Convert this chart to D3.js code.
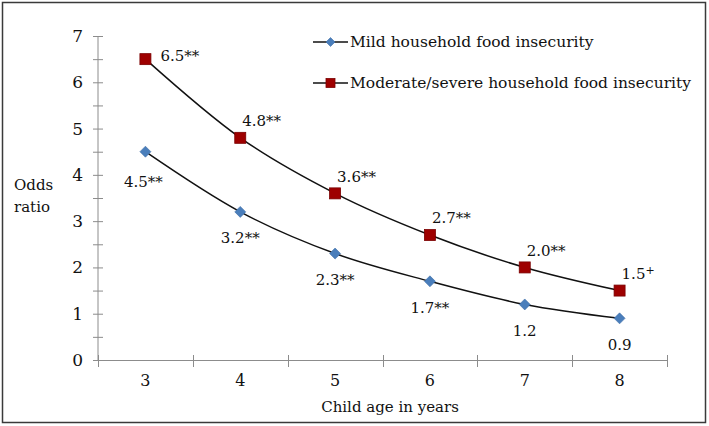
<!DOCTYPE html>
<html><head><meta charset="utf-8">
<script src="https://cdn.jsdelivr.net/npm/d3@7"></script>
<style>body{margin:0;background:#fff}svg{display:block}text{font-family:"DejaVu Serif",serif;fill:#111}</style>
</head><body><svg id="c" width="709" height="426"></svg>
<script>
const ages = [3, 4, 5, 6, 7, 8];
const mild = [4.5, 3.2, 2.3, 1.7, 1.2, 0.9];
const moderate = [6.5, 4.8, 3.6, 2.7, 2.0, 1.5];
const mildLabels = ["4.5**", "3.2**", "2.3**", "1.7**", "1.2", "0.9"];
const moderateLabels = ["6.5**", "4.8**", "3.6**", "2.7**", "2.0**", "1.5"];
const moderateSup = ["", "", "", "", "", "+"];
const yTicks = [0, 1, 2, 3, 4, 5, 6, 7];
const yMinorTicks = [0.5, 1.5, 2.5, 3.5, 4.5, 5.5, 6.5];
const seriesNames = ["Mild household food insecurity", "Moderate/severe household food insecurity"];

const svg = d3.select("#c");
const fs = 15;
svg.append("rect").attr("x", 2.5).attr("y", 2.5).attr("width", 703).attr("height", 420)
  .attr("fill", "#fff").attr("stroke", "#3a3a3a").attr("stroke-width", 1.5);

const x = d3.scaleBand().domain(ages).range([98, 667]);
const y = d3.scaleLinear().domain([0, 7]).range([360, 36]);
const cx = a => x(a) + x.bandwidth() / 2;
const axisColor = "#8c8c8c";

// y axis
const gy = svg.append("g");
gy.append("line").attr("x1", 98).attr("x2", 98).attr("y1", y(7)).attr("y2", y(0)).attr("stroke", axisColor);
gy.selectAll("line.t").data(yTicks.concat(yMinorTicks)).join("line").attr("class", "t")
  .attr("x1", 93).attr("x2", 103).attr("y1", d => y(d) + 0.5).attr("y2", d => y(d) + 0.5).attr("stroke", axisColor);
gy.selectAll("text").data(yTicks).join("text")
  .attr("x", 83).attr("y", d => y(d)).attr("dy", "0.35em").attr("text-anchor", "end")
  .style("font-size", "17px").text(d => d);

// x axis
const gx = svg.append("g");
gx.append("line").attr("x1", 98).attr("x2", 667).attr("y1", y(0) + 0.5).attr("y2", y(0) + 0.5).attr("stroke", axisColor);
const xEdges = ages.map(a => x(a)).concat([x(ages[ages.length - 1]) + x.bandwidth()]);
gx.selectAll("line.t").data(xEdges).join("line").attr("class", "t")
  .attr("x1", d => Math.round(d) + 0.5).attr("x2", d => Math.round(d) + 0.5)
  .attr("y1", y(0) - 5).attr("y2", y(0) + 7).attr("stroke", axisColor);
gx.selectAll("text").data(ages).join("text")
  .attr("x", d => cx(d)).attr("y", 380).attr("dy", "0.35em").attr("text-anchor", "middle")
  .style("font-size", "16px").text(d => d);

svg.append("text").attr("x", 390).attr("y", 407).attr("dy", "0.35em").attr("text-anchor", "middle")
  .style("font-size", fs + "px").text("Child age in years");
svg.append("text").attr("x", 14).attr("y", 185).attr("dy", "0.35em").style("font-size", fs + "px").text("Odds");
svg.append("text").attr("x", 14).attr("y", 207).attr("dy", "0.35em").style("font-size", fs + "px").text("ratio");

const line = d3.line().x((d, i) => cx(ages[i])).y(d => y(d)).curve(d3.curveCatmullRom.alpha(0));
svg.append("path").attr("d", line(mild)).attr("fill", "none").attr("stroke", "#111").attr("stroke-width", 1.5);
svg.append("path").attr("d", line(moderate)).attr("fill", "none").attr("stroke", "#111").attr("stroke-width", 1.5);

function drawDiamond(g, px, py, s) {
  g.append("path").attr("d", `M${px},${py - s}L${px + s},${py}L${px},${py + s}L${px - s},${py}Z`)
    .attr("fill", "#4a7ebb").attr("stroke", "#3f6fa8").attr("stroke-width", 0.6);
}
function drawSquare(g, px, py, s) {
  g.append("rect").attr("x", px - s).attr("y", py - s).attr("width", 2 * s).attr("height", 2 * s)
    .attr("fill", "#9e0000").attr("stroke", "#7a0000").attr("stroke-width", 0.8);
}
const gm = svg.append("g");
mild.forEach((v, i) => drawDiamond(gm, cx(ages[i]), y(v), 5.5));
moderate.forEach((v, i) => drawSquare(gm, cx(ages[i]), y(v), 5.5));

// labels
mild.forEach((v, i) => {
  svg.append("text").attr("x", cx(ages[i]) - (i === 0 ? 2 : 0)).attr("y", y(v) + (i === 0 ? 30 : 26)).attr("dy", "0.35em")
    .attr("text-anchor", "middle").style("font-size", fs + "px").text(mildLabels[i]);
});
moderate.forEach((v, i) => {
  const t = svg.append("text").style("font-size", fs + "px");
  if (i === 0) t.attr("x", cx(ages[i]) + 15).attr("y", y(v) - 3).attr("dy", "0.35em");
  else t.attr("x", cx(ages[i]) + 2).attr("y", y(v) - 17).attr("dy", "0.35em");
  t.append("tspan").text(moderateLabels[i]);
  if (moderateSup[i]) t.append("tspan").attr("dy", "-0.4em").style("font-size", "11px").text(moderateSup[i]);
});

// legend
const lg = svg.append("g");
[0, 1].forEach(k => {
  const ly = k === 0 ? 42 : 83;
  lg.append("line").attr("x1", 313).attr("x2", 348).attr("y1", ly).attr("y2", ly).attr("stroke", "#111").attr("stroke-width", 1.4);
  if (k === 0) drawDiamond(lg, 330.5, ly, 4.5); else drawSquare(lg, 330.5, ly, 4.5);
  lg.append("text").attr("x", 350).attr("y", ly).attr("dy", "0.35em").style("font-size", "15.5px").text(seriesNames[k]);
});
</script></body></html>
